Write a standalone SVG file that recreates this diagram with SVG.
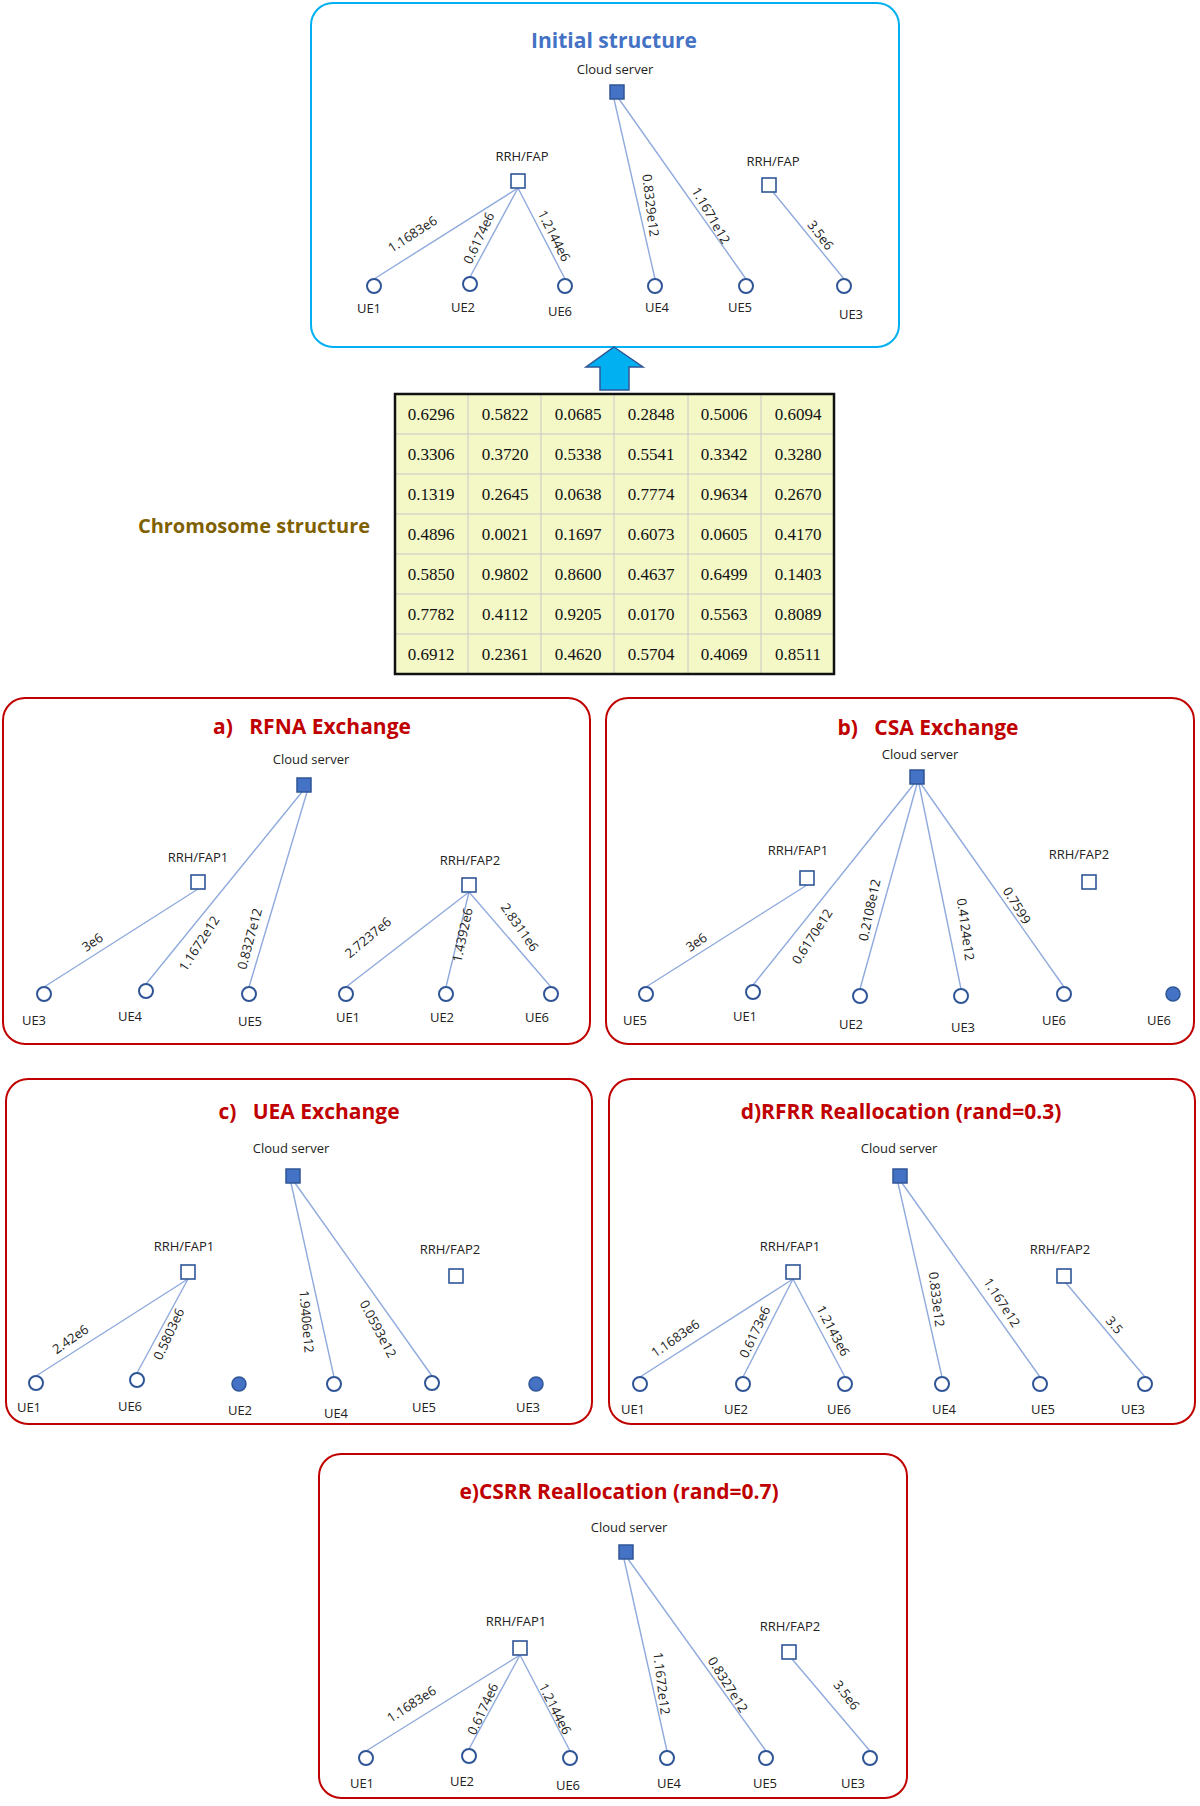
<svg xmlns="http://www.w3.org/2000/svg" width="1200" height="1806" viewBox="0 0 1200 1806">
<style>
text{font-family:"Open Sans","Liberation Sans",sans-serif;fill:#222}
.lbl{font-size:13px;text-anchor:middle}
.el{font-size:13px;text-anchor:middle}
.ttl{font-size:21px;font-weight:bold;text-anchor:middle;fill:#c00000}
.panel{fill:#fff;stroke:#c00000;stroke-width:2}
.ue{fill:#fff;stroke:#2f5597;stroke-width:2}
.uef{fill:#4472c4;stroke:#2f5597;stroke-width:1.5}
.rrh{fill:#fff;stroke:#2f5597;stroke-width:1.6}
.cs{fill:#4472c4;stroke:#2f5597;stroke-width:1.5}
.ln{stroke:#8faadc;stroke-width:1.4;fill:none}
.cell{font-family:"Liberation Serif",serif;font-size:17px;text-anchor:middle;fill:#111}
</style>
<rect x="0" y="0" width="1200" height="1806" fill="#fff"/>

<!-- Initial structure -->
<g id="initial">
<rect x="311" y="3" width="588" height="344" rx="22" fill="#fff" stroke="#00b0f0" stroke-width="2"/>
<text x="614" y="48" style="font-size:21px;font-weight:bold;text-anchor:middle;fill:#4472c4">Initial structure</text>
</g>
<g id="i-conn">
<line class="ln" x1="518" y1="188" x2="374" y2="279"/>
<line class="ln" x1="518" y1="188" x2="470" y2="277"/>
<line class="ln" x1="518" y1="188" x2="565" y2="279"/>
<line class="ln" x1="614" y1="99" x2="655" y2="279"/>
<line class="ln" x1="619" y1="99" x2="746" y2="279"/>
<line class="ln" x1="773" y1="192" x2="844" y2="279"/>
<text class="el" transform="translate(415,238) rotate(-33)">1.1683e6</text>
<text class="el" transform="translate(483,240) rotate(-65)">0.6174e6</text>
<text class="el" transform="translate(550,238) rotate(63)">1.2144e6</text>
<text class="el" transform="translate(646,206) rotate(83)">0.8329e12</text>
<text class="el" transform="translate(707,218) rotate(60)">1.1671e12</text>
<text class="el" transform="translate(817,238) rotate(52)">3.5e6</text>
</g>
<g id="i-cloud"><text class="lbl" x="615" y="74">Cloud server</text><rect class="cs" x="610" y="85" width="14" height="14"/></g>
<g id="i-rrh1"><text class="lbl" x="522" y="161">RRH/FAP</text><rect class="rrh" x="511" y="174" width="14" height="14"/></g>
<g id="i-rrh2"><text class="lbl" x="773" y="166">RRH/FAP</text><rect class="rrh" x="762" y="178" width="14" height="14"/></g>
<g id="i-ue1"><circle class="ue" cx="374" cy="286" r="7"/><text class="lbl" x="369" y="313">UE1</text></g>
<g id="i-ue2"><circle class="ue" cx="470" cy="284" r="7"/><text class="lbl" x="463" y="312">UE2</text></g>
<g id="i-ue6"><circle class="ue" cx="565" cy="286" r="7"/><text class="lbl" x="560" y="316">UE6</text></g>
<g id="i-ue4"><circle class="ue" cx="655" cy="286" r="7"/><text class="lbl" x="657" y="312">UE4</text></g>
<g id="i-ue5"><circle class="ue" cx="746" cy="286" r="7"/><text class="lbl" x="740" y="312">UE5</text></g>
<g id="i-ue3"><circle class="ue" cx="844" cy="286" r="7"/><text class="lbl" x="851" y="319">UE3</text></g>

<g id="arrow"><polygon points="614,347 643,367 629,367 629,390 600,390 600,367 586,367" fill="#00b0f0" stroke="#2f5597" stroke-width="1.5"/></g>

<!-- Chromosome -->
<g id="chromosome">
<text x="254" y="533" style="font-size:20px;font-weight:bold;text-anchor:middle;fill:#7f6000">Chromosome structure</text>
<rect x="395" y="394" width="439" height="280" fill="#f3f8c6"/>
<g stroke="#c8c8c8" stroke-width="1">
<line x1="468" y1="394" x2="468" y2="674"/><line x1="541" y1="394" x2="541" y2="674"/><line x1="614" y1="394" x2="614" y2="674"/><line x1="688" y1="394" x2="688" y2="674"/><line x1="761" y1="394" x2="761" y2="674"/>
<line x1="395" y1="434" x2="834" y2="434"/><line x1="395" y1="474" x2="834" y2="474"/><line x1="395" y1="514" x2="834" y2="514"/><line x1="395" y1="554" x2="834" y2="554"/><line x1="395" y1="594" x2="834" y2="594"/><line x1="395" y1="634" x2="834" y2="634"/>
</g>
<rect x="395" y="394" width="439" height="280" fill="none" stroke="#111" stroke-width="2.5"/>
<g class="cell">
<text class="cell" x="431" y="420">0.6296</text><text class="cell" x="505" y="420">0.5822</text><text class="cell" x="578" y="420">0.0685</text><text class="cell" x="651" y="420">0.2848</text><text class="cell" x="724" y="420">0.5006</text><text class="cell" x="798" y="420">0.6094</text>
<text class="cell" x="431" y="460">0.3306</text><text class="cell" x="505" y="460">0.3720</text><text class="cell" x="578" y="460">0.5338</text><text class="cell" x="651" y="460">0.5541</text><text class="cell" x="724" y="460">0.3342</text><text class="cell" x="798" y="460">0.3280</text>
<text class="cell" x="431" y="500">0.1319</text><text class="cell" x="505" y="500">0.2645</text><text class="cell" x="578" y="500">0.0638</text><text class="cell" x="651" y="500">0.7774</text><text class="cell" x="724" y="500">0.9634</text><text class="cell" x="798" y="500">0.2670</text>
<text class="cell" x="431" y="540">0.4896</text><text class="cell" x="505" y="540">0.0021</text><text class="cell" x="578" y="540">0.1697</text><text class="cell" x="651" y="540">0.6073</text><text class="cell" x="724" y="540">0.0605</text><text class="cell" x="798" y="540">0.4170</text>
<text class="cell" x="431" y="580">0.5850</text><text class="cell" x="505" y="580">0.9802</text><text class="cell" x="578" y="580">0.8600</text><text class="cell" x="651" y="580">0.4637</text><text class="cell" x="724" y="580">0.6499</text><text class="cell" x="798" y="580">0.1403</text>
<text class="cell" x="431" y="620">0.7782</text><text class="cell" x="505" y="620">0.4112</text><text class="cell" x="578" y="620">0.9205</text><text class="cell" x="651" y="620">0.0170</text><text class="cell" x="724" y="620">0.5563</text><text class="cell" x="798" y="620">0.8089</text>
<text class="cell" x="431" y="660">0.6912</text><text class="cell" x="505" y="660">0.2361</text><text class="cell" x="578" y="660">0.4620</text><text class="cell" x="651" y="660">0.5704</text><text class="cell" x="724" y="660">0.4069</text><text class="cell" x="798" y="660">0.8511</text>
</g>
</g>

<!-- Panel a -->
<g id="a-panel"><rect class="panel" x="3" y="698" width="587" height="346" rx="22"/><text class="ttl" x="312" y="734" xml:space="preserve">a)   RFNA Exchange</text></g>
<g id="a-conn">
<line class="ln" x1="198" y1="889" x2="44" y2="987"/>
<line class="ln" x1="302" y1="792" x2="146" y2="984"/>
<line class="ln" x1="307" y1="792" x2="249" y2="987"/>
<line class="ln" x1="469" y1="892" x2="346" y2="987"/>
<line class="ln" x1="469" y1="892" x2="446" y2="987"/>
<line class="ln" x1="469" y1="892" x2="551" y2="987"/>
<text class="el" transform="translate(95,946) rotate(-35)">3e6</text>
<text class="el" transform="translate(203,946) rotate(-57)">1.1672e12</text>
<text class="el" transform="translate(254,940) rotate(-75)">0.8327e12</text>
<text class="el" transform="translate(371,941) rotate(-40)">2.7237e6</text>
<text class="el" transform="translate(467,936) rotate(-78)">1.4392e6</text>
<text class="el" transform="translate(516,930) rotate(55)">2.8311e6</text>
</g>
<g id="a-cloud"><text class="lbl" x="311" y="764">Cloud server</text><rect class="cs" x="297" y="778" width="14" height="14"/></g>
<g id="a-rrh1"><text class="lbl" x="198" y="862">RRH/FAP1</text><rect class="rrh" x="191" y="875" width="14" height="14"/></g>
<g id="a-rrh2"><text class="lbl" x="470" y="865">RRH/FAP2</text><rect class="rrh" x="462" y="878" width="14" height="14"/></g>
<g id="a-ue3"><circle class="ue" cx="44" cy="994" r="7"/><text class="lbl" x="34" y="1025">UE3</text></g>
<g id="a-ue4"><circle class="ue" cx="146" cy="991" r="7"/><text class="lbl" x="130" y="1021">UE4</text></g>
<g id="a-ue5"><circle class="ue" cx="249" cy="994" r="7"/><text class="lbl" x="250" y="1026">UE5</text></g>
<g id="a-ue1"><circle class="ue" cx="346" cy="994" r="7"/><text class="lbl" x="348" y="1022">UE1</text></g>
<g id="a-ue2"><circle class="ue" cx="446" cy="994" r="7"/><text class="lbl" x="442" y="1022">UE2</text></g>
<g id="a-ue6"><circle class="ue" cx="551" cy="994" r="7"/><text class="lbl" x="537" y="1022">UE6</text></g>

<!-- Panel b -->
<g id="b-panel"><rect class="panel" x="606" y="698" width="588" height="346" rx="22"/><text class="ttl" x="928" y="735" xml:space="preserve">b)   CSA Exchange</text></g>
<g id="b-conn">
<line class="ln" x1="807" y1="885" x2="646" y2="987"/>
<line class="ln" x1="914" y1="784" x2="753" y2="985"/>
<line class="ln" x1="917" y1="784" x2="860" y2="989"/>
<line class="ln" x1="919" y1="784" x2="961" y2="989"/>
<line class="ln" x1="921" y1="784" x2="1064" y2="987"/>
<text class="el" transform="translate(699,946) rotate(-35)">3e6</text>
<text class="el" transform="translate(816,939) rotate(-57)">0.6170e12</text>
<text class="el" transform="translate(874,911) rotate(-78)">0.2108e12</text>
<text class="el" transform="translate(961,930) rotate(82)">0.4124e12</text>
<text class="el" transform="translate(1013,908) rotate(58)">0.7599</text>
</g>
<g id="b-cloud"><text class="lbl" x="920" y="759">Cloud server</text><rect class="cs" x="910" y="770" width="14" height="14"/></g>
<g id="b-rrh1"><text class="lbl" x="798" y="855">RRH/FAP1</text><rect class="rrh" x="800" y="871" width="14" height="14"/></g>
<g id="b-rrh2"><text class="lbl" x="1079" y="859">RRH/FAP2</text><rect class="rrh" x="1082" y="875" width="14" height="14"/></g>
<g id="b-ue5"><circle class="ue" cx="646" cy="994" r="7"/><text class="lbl" x="635" y="1025">UE5</text></g>
<g id="b-ue1"><circle class="ue" cx="753" cy="992" r="7"/><text class="lbl" x="745" y="1021">UE1</text></g>
<g id="b-ue2"><circle class="ue" cx="860" cy="996" r="7"/><text class="lbl" x="851" y="1029">UE2</text></g>
<g id="b-ue3"><circle class="ue" cx="961" cy="996" r="7"/><text class="lbl" x="963" y="1032">UE3</text></g>
<g id="b-ue6"><circle class="ue" cx="1064" cy="994" r="7"/><text class="lbl" x="1054" y="1025">UE6</text></g>
<g id="b-ue6b"><circle class="uef" cx="1173" cy="994" r="7"/><text class="lbl" x="1159" y="1025">UE6</text></g>

<!-- Panel c -->
<g id="c-panel"><rect class="panel" x="6" y="1079" width="586" height="345" rx="22"/><text class="ttl" x="309" y="1119" xml:space="preserve">c)   UEA Exchange</text></g>
<g id="c-conn">
<line class="ln" x1="188" y1="1279" x2="36" y2="1376"/>
<line class="ln" x1="188" y1="1279" x2="137" y2="1373"/>
<line class="ln" x1="291" y1="1183" x2="334" y2="1377"/>
<line class="ln" x1="295" y1="1183" x2="432" y2="1376"/>
<text class="el" transform="translate(73,1343) rotate(-35)">2.42e6</text>
<text class="el" transform="translate(173,1336) rotate(-65)">0.5803e6</text>
<text class="el" transform="translate(302,1322) rotate(85)">1.9406e12</text>
<text class="el" transform="translate(374,1331) rotate(62)">0.0593e12</text>
</g>
<g id="c-cloud"><text class="lbl" x="291" y="1153">Cloud server</text><rect class="cs" x="286" y="1169" width="14" height="14"/></g>
<g id="c-rrh1"><text class="lbl" x="184" y="1251">RRH/FAP1</text><rect class="rrh" x="181" y="1265" width="14" height="14"/></g>
<g id="c-rrh2"><text class="lbl" x="450" y="1254">RRH/FAP2</text><rect class="rrh" x="449" y="1269" width="14" height="14"/></g>
<g id="c-ue1"><circle class="ue" cx="36" cy="1383" r="7"/><text class="lbl" x="29" y="1412">UE1</text></g>
<g id="c-ue6"><circle class="ue" cx="137" cy="1380" r="7"/><text class="lbl" x="130" y="1411">UE6</text></g>
<g id="c-ue2"><circle class="uef" cx="239" cy="1384" r="7"/><text class="lbl" x="240" y="1415">UE2</text></g>
<g id="c-ue4"><circle class="ue" cx="334" cy="1384" r="7"/><text class="lbl" x="336" y="1418">UE4</text></g>
<g id="c-ue5"><circle class="ue" cx="432" cy="1383" r="7"/><text class="lbl" x="424" y="1412">UE5</text></g>
<g id="c-ue3"><circle class="uef" cx="536" cy="1384" r="7"/><text class="lbl" x="528" y="1412">UE3</text></g>

<!-- Panel d -->
<g id="d-panel"><rect class="panel" x="609" y="1079" width="586" height="345" rx="22"/><text class="ttl" x="901" y="1119">d)RFRR Reallocation (rand=0.3)</text></g>
<g id="d-conn">
<line class="ln" x1="793" y1="1279" x2="640" y2="1377"/>
<line class="ln" x1="793" y1="1279" x2="743" y2="1377"/>
<line class="ln" x1="793" y1="1279" x2="845" y2="1377"/>
<line class="ln" x1="898" y1="1183" x2="942" y2="1377"/>
<line class="ln" x1="902" y1="1183" x2="1040" y2="1377"/>
<line class="ln" x1="1066" y1="1283" x2="1145" y2="1377"/>
<text class="el" transform="translate(678,1342) rotate(-35)">1.1683e6</text>
<text class="el" transform="translate(759,1334) rotate(-65)">0.6173e6</text>
<text class="el" transform="translate(829,1333) rotate(62)">1.2143e6</text>
<text class="el" transform="translate(932,1300) rotate(83)">0.833e12</text>
<text class="el" transform="translate(998,1305) rotate(57)">1.167e12</text>
<text class="el" transform="translate(1111,1328) rotate(50)">3.5</text>
</g>
<g id="d-cloud"><text class="lbl" x="899" y="1153">Cloud server</text><rect class="cs" x="893" y="1169" width="14" height="14"/></g>
<g id="d-rrh1"><text class="lbl" x="790" y="1251">RRH/FAP1</text><rect class="rrh" x="786" y="1265" width="14" height="14"/></g>
<g id="d-rrh2"><text class="lbl" x="1060" y="1254">RRH/FAP2</text><rect class="rrh" x="1057" y="1269" width="14" height="14"/></g>
<g id="d-ue1"><circle class="ue" cx="640" cy="1384" r="7"/><text class="lbl" x="633" y="1414">UE1</text></g>
<g id="d-ue2"><circle class="ue" cx="743" cy="1384" r="7"/><text class="lbl" x="736" y="1414">UE2</text></g>
<g id="d-ue6"><circle class="ue" cx="845" cy="1384" r="7"/><text class="lbl" x="839" y="1414">UE6</text></g>
<g id="d-ue4"><circle class="ue" cx="942" cy="1384" r="7"/><text class="lbl" x="944" y="1414">UE4</text></g>
<g id="d-ue5"><circle class="ue" cx="1040" cy="1384" r="7"/><text class="lbl" x="1043" y="1414">UE5</text></g>
<g id="d-ue3"><circle class="ue" cx="1145" cy="1384" r="7"/><text class="lbl" x="1133" y="1414">UE3</text></g>

<!-- Panel e -->
<g id="e-panel"><rect class="panel" x="319" y="1454" width="588" height="344" rx="22"/><text class="ttl" x="619" y="1499">e)CSRR Reallocation (rand=0.7)</text></g>
<g id="e-conn">
<line class="ln" x1="520" y1="1655" x2="366" y2="1751"/>
<line class="ln" x1="520" y1="1655" x2="469" y2="1749"/>
<line class="ln" x1="520" y1="1655" x2="570" y2="1751"/>
<line class="ln" x1="624" y1="1559" x2="667" y2="1751"/>
<line class="ln" x1="628" y1="1559" x2="766" y2="1751"/>
<line class="ln" x1="792" y1="1659" x2="870" y2="1751"/>
<text class="el" transform="translate(414,1708) rotate(-33)">1.1683e6</text>
<text class="el" transform="translate(487,1711) rotate(-65)">0.6174e6</text>
<text class="el" transform="translate(551,1711) rotate(63)">1.2144e6</text>
<text class="el" transform="translate(657,1684) rotate(83)">1.1672e12</text>
<text class="el" transform="translate(724,1687) rotate(58)">0.8327e12</text>
<text class="el" transform="translate(843,1698) rotate(52)">3.5e6</text>
</g>
<g id="e-cloud"><text class="lbl" x="629" y="1532">Cloud server</text><rect class="cs" x="619" y="1545" width="14" height="14"/></g>
<g id="e-rrh1"><text class="lbl" x="516" y="1626">RRH/FAP1</text><rect class="rrh" x="513" y="1641" width="14" height="14"/></g>
<g id="e-rrh2"><text class="lbl" x="790" y="1631">RRH/FAP2</text><rect class="rrh" x="782" y="1645" width="14" height="14"/></g>
<g id="e-ue1"><circle class="ue" cx="366" cy="1758" r="7"/><text class="lbl" x="362" y="1788">UE1</text></g>
<g id="e-ue2"><circle class="ue" cx="469" cy="1756" r="7"/><text class="lbl" x="462" y="1786">UE2</text></g>
<g id="e-ue6"><circle class="ue" cx="570" cy="1758" r="7"/><text class="lbl" x="568" y="1790">UE6</text></g>
<g id="e-ue4"><circle class="ue" cx="667" cy="1758" r="7"/><text class="lbl" x="669" y="1788">UE4</text></g>
<g id="e-ue5"><circle class="ue" cx="766" cy="1758" r="7"/><text class="lbl" x="765" y="1788">UE5</text></g>
<g id="e-ue3"><circle class="ue" cx="870" cy="1758" r="7"/><text class="lbl" x="853" y="1788">UE3</text></g>
</svg>
